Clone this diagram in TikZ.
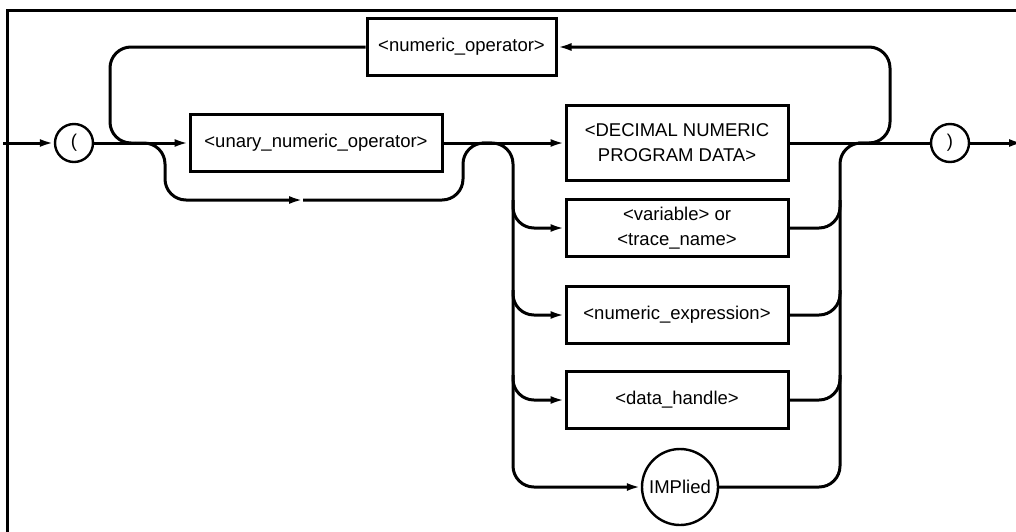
\documentclass[tikz,border=0pt]{standalone}
\usepackage{fontspec}
\setmainfont{Liberation Sans}
\usetikzlibrary{arrows.meta}

\newcommand{\lblfont}{\fontsize{18.5}{25}\selectfont}

\tikzset{
  flow/.style={line width=3pt},
  arr/.style={-{Latex[length=14pt,width=8pt]}},
  synbox/.style={draw, line width=3pt, rectangle, inner sep=0pt,
                 minimum height=57pt, align=center, font=\lblfont},
  termcirc/.style={draw, line width=2.4pt, circle, inner sep=0pt, font=\lblfont},
  curve/.style={rounded corners=21pt}
}

\begin{document}
\begin{tikzpicture}[x=1pt, y=-1pt]
  \useasboundingbox (0,0) rectangle (1016,531);

  % frame
  \draw[line width=3pt] (7,533) -- (7,10) -- (1018,10);

  % terminals
  \node[termcirc, minimum size=38pt] (lp) at (74,143) {(};
  \node[termcirc, minimum size=38pt] (rp) at (950,143) {)};
  \node[termcirc, minimum size=76pt] (imp) at (680,487) {IMPlied};

  % syntax elements
  \node[synbox, minimum width=189pt] (numop) at (461.5,47) {<numeric\_operator>};
  \node[synbox, minimum width=252pt] (unary) at (316,143) {<unary\_numeric\_operator>};
  \node[synbox, minimum width=222pt, minimum height=75pt] (dec) at (677,143)
        {<DECIMAL NUMERIC\\PROGRAM DATA>};
  \node[synbox, minimum width=222pt] (var) at (677,228) {<variable> or\\<trace\_name>};
  \node[synbox, minimum width=222pt] (nexp) at (677,315) {<numeric\_expression>};
  \node[synbox, minimum width=222pt] (dh) at (677,400) {<data\_handle>};

  % junction points
  \coordinate (entry) at (3,143);
  \coordinate (exit) at (1023,143);
  \coordinate (loopin) at (135,143);
  \coordinate (byin) at (135,143);
  \coordinate (bymid) at (303,200);
  \coordinate (byout) at (492,143);
  \coordinate (railtop) at (482,143);
  \coordinate (rrailout) at (872,143);
  \coordinate (loopout) at (858,143);

  % main line
  \draw[flow, arr] (entry) -- (lp.west);
  \draw[flow, arr] (lp.east) -- (unary.west);
  \draw[flow, arr] (unary.east) -- (dec.west);
  \draw[flow] (dec.east) -- (rp.west);
  \draw[flow, arr] (rp.east) -- (exit);

  % repeat loop over <numeric_operator>
  \draw[flow, arr, curve] (loopout) -- (890,143) -- (890,47) -- (numop.east);
  \draw[flow, curve] (numop.west) -- (110,47) -- (110,143) -- (loopin);

  % bypass of the unary operator
  \draw[flow, arr, curve] (byin) -- (165,143) -- (165,200) -- (bymid);
  \draw[flow, curve] (bymid) -- (463,200) -- (463,143) -- (byout);

  % left rail feeding the alternatives
  \draw[flow, arr, curve] (railtop) -- (513,143) -- (513,487) -- (imp.west);
  \draw[flow, arr, curve] (513,200) -- (513,228) -- (var.west);
  \draw[flow, arr, curve] (513,290) -- (513,315) -- (nexp.west);
  \draw[flow, arr, curve] (513,375) -- (513,400) -- (dh.west);

  % right rail collecting the alternatives
  \draw[flow, curve] (imp.east) -- (840,487) -- (840,143) -- (rrailout);
  \draw[flow, curve] (var.east) -- (840,228) -- (840,200);
  \draw[flow, curve] (nexp.east) -- (840,315) -- (840,290);
  \draw[flow, curve] (dh.east) -- (840,400) -- (840,375);
\end{tikzpicture}
\end{document}
